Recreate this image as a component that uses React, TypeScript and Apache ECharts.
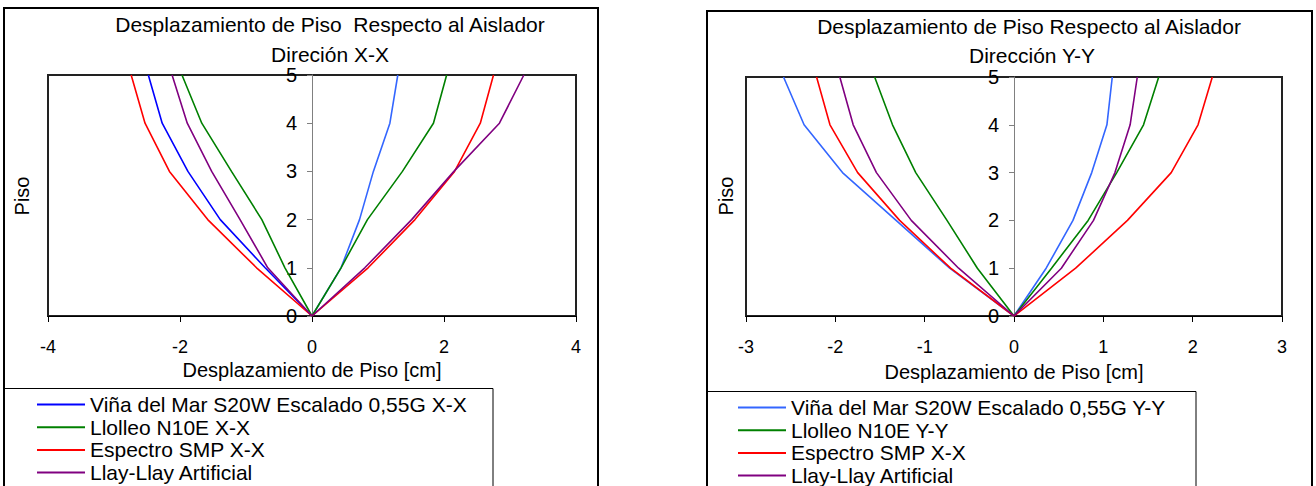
import React, { useEffect, useRef } from "react";
import * as echarts from "echarts";

const FONT = "'Liberation Sans', Arial, sans-serif";

const floors = [0, 1, 2, 3, 4, 5];
const yTicks = [0, 1, 2, 3, 4, 5];

// Dirección X-X (left chart)
const vinaXneg = [0, -0.71, -1.39, -1.88, -2.27, -2.48];
const vinaXpos = [0, 0.44, 0.72, 0.93, 1.18, 1.3];
const lloXneg = [0, -0.41, -0.76, -1.22, -1.67, -1.97];
const lloXpos = [0, 0.44, 0.84, 1.37, 1.84, 2.04];
const smpXneg = [0, -0.84, -1.58, -2.16, -2.53, -2.74];
const smpXpos = [0, 0.85, 1.56, 2.16, 2.55, 2.75];
const llayXneg = [0, -0.67, -1.09, -1.52, -1.89, -2.12];
const llayXpos = [0, 0.8, 1.51, 2.15, 2.84, 3.21];

// Dirección Y-Y (right chart)
const vinaYneg = [0, -0.72, -1.32, -1.92, -2.35, -2.58];
const vinaYpos = [0, 0.36, 0.66, 0.87, 1.04, 1.1];
const lloYneg = [0, -0.41, -0.75, -1.1, -1.36, -1.56];
const lloYpos = [0, 0.42, 0.83, 1.15, 1.45, 1.62];
const smpYneg = [0, -0.71, -1.28, -1.75, -2.06, -2.21];
const smpYpos = [0, 0.69, 1.27, 1.76, 2.06, 2.22];
const llayYneg = [0, -0.62, -1.15, -1.54, -1.8, -1.95];
const llayYpos = [0, 0.53, 0.89, 1.13, 1.3, 1.38];

const namesX = [
  "Viña del Mar S20W Escalado 0,55G X-X",
  "Llolleo N10E X-X",
  "Espectro SMP X-X",
  "Llay-Llay Artificial",
];
const namesY = [
  "Viña del Mar S20W Escalado 0,55G Y-Y",
  "Llolleo N10E Y-Y",
  "Espectro SMP X-X",
  "Llay-Llay Artificial",
];

const titleL1 = "Desplazamiento de Piso  Respecto al Aislador";
const titleL2 = "Direción X-X";
const titleR1 = "Desplazamiento de Piso Respecto al Aislador";
const titleR2 = "Dirección Y-Y";
const xName = "Desplazamiento de Piso [cm]";
const yName = "Piso";

const toPts = (arr: number[]) => arr.map((v, i) => [v, floors[i]]);

function lineSeries(name: string, arr: number[], color: string, idx: number) {
  return {
    type: "line",
    name,
    xAxisIndex: idx,
    yAxisIndex: idx,
    data: toPts(arr),
    symbol: "none",
    lineStyle: { color, width: 1.6 },
    itemStyle: { color },
  };
}

export default function App() {
  const ref = useRef<HTMLDivElement>(null);
  useEffect(() => {
    if (!ref.current) return;
    const chart = echarts.init(ref.current, undefined, { renderer: "svg" });
    const xAxisCommon = (min: number, max: number, interval: number, idx: number, nameGap: number) => ({
      type: "value",
      gridIndex: idx,
      min,
      max,
      interval,
      name: xName,
      nameLocation: "middle",
      nameGap,
      nameTextStyle: { fontFamily: FONT, fontSize: 20, color: "#000" },
      axisLine: { show: true, onZero: false, lineStyle: { color: "#000", width: 1 } },
      axisTick: { show: true, length: 6, lineStyle: { color: "#000" } },
      axisLabel: { fontFamily: FONT, fontSize: 18, color: "#000", margin: 22 },
      splitLine: { show: false },
    });
    // offset moves the y axis (line, ticks, labels) to x = 0 of the grid
    const yAxisCommon = (idx: number, offset: number) => ({
      type: "value",
      gridIndex: idx,
      position: "left",
      offset,
      min: yTicks[0],
      max: yTicks[yTicks.length - 1],
      interval: 1,
      axisLine: { show: true, onZero: false, lineStyle: { color: "#808080", width: 1 } },
      axisTick: { show: true, length: 5, lineStyle: { color: "#808080" } },
      axisLabel: { fontFamily: FONT, fontSize: 20, color: "#000", margin: 15 },
      splitLine: { show: false },
    });
    const legendCommon = (left: number, top: number, data: string[]) => ({
      orient: "vertical",
      left,
      top,
      height: 110,
      width: 500,
      data,
      padding: 0,
      icon: "rect",
      itemWidth: 48,
      itemHeight: 2,
      itemGap: 1.7,
      selectedMode: false,
      textStyle: { fontFamily: FONT, fontSize: 21, color: "#000", lineHeight: 20 },
    });
    const txt = (text: string, x: number, y: number, size: number, rotation = 0) => ({
      type: "text",
      x,
      y,
      rotation,
      style: {
        text,
        fontFamily: FONT,
        fontSize: size,
        fill: "#000",
        textAlign: "center",
        textVerticalAlign: "middle",
      },
    });
    chart.setOption({
      animation: false,
      backgroundColor: "#fff",
      grid: [
        { left: 48, top: 75, width: 528, height: 241, show: true, borderColor: "#222", borderWidth: 2, backgroundColor: "transparent" },
        { left: 746, top: 77, width: 536, height: 239, show: true, borderColor: "#222", borderWidth: 2, backgroundColor: "transparent" },
      ],
      xAxis: [xAxisCommon(-4, 4, 2, 0, 44), xAxisCommon(-3, 3, 1, 1, 46)],
      yAxis: [yAxisCommon(0, -264), yAxisCommon(1, -268)],
      legend: [legendCommon(37, 394, namesX), legendCommon(738, 397, namesY)],
      graphic: [
        { type: "rect", shape: { x: 4, y: 8, width: 594, height: 500 }, style: { fill: "none", stroke: "#000", lineWidth: 2 }, z: -1 },
        { type: "rect", shape: { x: 707, y: 11, width: 605, height: 500 }, style: { fill: "none", stroke: "#000", lineWidth: 2 }, z: -1 },
        { type: "rect", shape: { x: 4, y: 388.5, width: 489, height: 120 }, style: { fill: "none", stroke: "#000", lineWidth: 1 }, z: -1 },
        { type: "rect", shape: { x: 707, y: 391.5, width: 489, height: 120 }, style: { fill: "none", stroke: "#000", lineWidth: 1 }, z: -1 },
        txt(titleL1, 330, 24, 21),
        txt(titleL2, 330, 54, 21),
        txt(titleR1, 1029, 26, 21),
        txt(titleR2, 1032, 55, 21),
        txt(yName, 22, 196, 20, Math.PI / 2),
        txt(yName, 726, 196, 20, Math.PI / 2),
      ],
      series: [
        lineSeries(namesX[0], vinaXneg, "#0000FF", 0),
        lineSeries(namesX[0], vinaXpos, "#3366FF", 0),
        lineSeries(namesX[1], lloXneg, "#008000", 0),
        lineSeries(namesX[1], lloXpos, "#008000", 0),
        lineSeries(namesX[2], smpXneg, "#FF0000", 0),
        lineSeries(namesX[2], smpXpos, "#FF0000", 0),
        lineSeries(namesX[3], llayXneg, "#800080", 0),
        lineSeries(namesX[3], llayXpos, "#800080", 0),
        lineSeries(namesY[0], vinaYneg, "#3366FF", 1),
        lineSeries(namesY[0], vinaYpos, "#3366FF", 1),
        lineSeries(namesY[1], lloYneg, "#008000", 1),
        lineSeries(namesY[1], lloYpos, "#008000", 1),
        lineSeries(namesY[2], smpYneg, "#FF0000", 1),
        lineSeries(namesY[2], smpYpos, "#FF0000", 1),
        lineSeries(namesY[3], llayYneg, "#800080", 1),
        lineSeries(namesY[3], llayYpos, "#800080", 1),
      ],
    });
    return () => chart.dispose();
  }, []);
  return (
    <div
      ref={ref}
      style={{ position: "absolute", left: 0, top: 0, width: 1316, height: 486 }}
    />
  );
}
